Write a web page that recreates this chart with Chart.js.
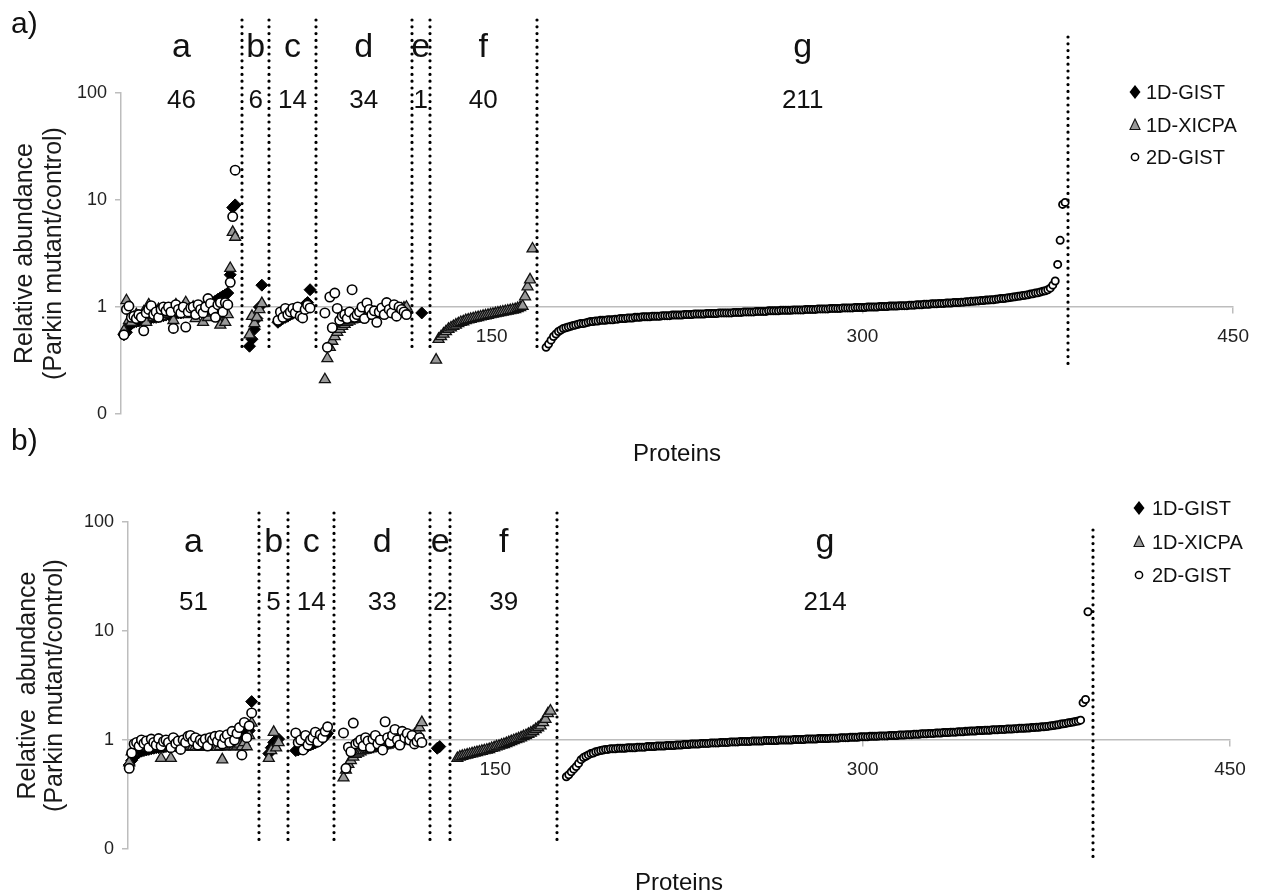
<!DOCTYPE html>
<html>
<head>
<meta charset="utf-8">
<script src="https://cdn.jsdelivr.net/npm/chart.js@4.4.1/dist/chart.umd.min.js"></script>
<style>
  html, body { margin: 0; padding: 0; background: #fff; }
  body { width: 1261px; height: 895px; position: relative; overflow: hidden; }
  canvas { position: absolute; left: 0; }
  #panelA { top: 0; }
  #panelB { top: 425px; }
</style>
</head>
<body>
<canvas id="panelA" width="1261" height="470"></canvas>
<canvas id="panelB" width="1261" height="470"></canvas>
<script>
'use strict';

const FONT = "'Liberation Sans', Arial, sans-serif";
Chart.defaults.font.family = FONT;
Chart.defaults.color = '#1a1a1a';

const seriesNames = ['1D-GIST', '1D-XICPA', '2D-GIST'];
const groupNames = ['a', 'b', 'c', 'd', 'e', 'f', 'g'];
const yTickValues = [0.1, 1, 10, 100];
const yTickLabels = ['0', '1', '10', '100'];
const xTickValues = [150, 300, 450];

// ---------- panel a) ----------
const aCounts = [46, 6, 14, 34, 1, 40, 211];
const aStarts = [1.2, 52, 63.5, 82.5, 121.7, 127.5, 172];   // x of first protein in each group
const aBounds = [49, 60, 78.7, 117.7, 124.9, 168.3, 383.3];  // dotted separators (x)

const aGist1D = {
  a: [0.55, 0.58, 0.66, 0.7, 0.72, 0.73, 0.74, 0.75, 0.76, 0.77,
      0.78, 0.79, 0.8, 0.8, 0.81, 0.82, 0.83, 0.84, 0.85, 0.86,
      0.86, 0.87, 0.88, 0.88, 0.89, 0.9, 0.9, 0.91, 0.92, 0.93,
      0.95, 0.97, 0.99, 1.01, 1.04, 1.07, 1.1, 1.14, 1.18, 1.22,
      1.26, 1.3, 1.35, 2.0, 8.5, 9.0],
  b: [0.43, 0.5, 0.62, 0.78, 1.0, 1.6],
  c: [0.72, 0.75, 0.78, 0.8, 0.82, 0.85, 0.87, 0.9, 0.92, 0.95, 0.98, 1.05, 1.1, 1.45],
  e: [0.88]
};
const aXicpa = {
  a: [0.6, 1.15, 0.75, 0.72, 0.8, 0.85, 0.8, 0.78, 0.9, 0.72,
      1.05, 0.85, 0.8, 0.9, 0.95, 0.82, 0.85, 0.9, 0.88, 0.95,
      0.75, 1.05, 0.9, 0.95, 1.0, 1.1, 0.85, 0.9, 1.0, 0.78,
      0.95, 1.0, 0.72, 0.9, 0.8, 0.95, 0.88, 0.9, 0.8, 0.68,
      1.0, 0.72, 0.85, 2.3, 5.0, 4.5],
  b: [0.55, 0.82, 0.7, 0.8, 0.95, 1.08],
  d: [0.21, 0.33, 0.42, 0.48, 0.53, 0.58, 0.62, 0.66, 0.69, 0.72,
      0.74, 0.76, 0.77, 0.79, 0.8, 0.81, 0.82, 0.83, 0.84, 0.85,
      0.86, 0.86, 0.87, 0.88, 0.89, 0.9, 0.91, 0.92, 0.93, 0.94,
      0.95, 0.96, 0.98, 1.0],
  f: [0.32, 0.5, 0.53, 0.56, 0.59, 0.62, 0.64, 0.66, 0.68, 0.7,
      0.72, 0.73, 0.75, 0.76, 0.77, 0.78, 0.79, 0.8, 0.81, 0.82,
      0.83, 0.84, 0.85, 0.86, 0.87, 0.88, 0.89, 0.9, 0.91, 0.92,
      0.93, 0.94, 0.95, 0.97, 0.99, 1.02, 1.25, 1.55, 1.8, 3.5]
};
const aGist2D = {
  a: [0.55, 0.95, 1.02, 0.8, 0.82, 0.78, 0.85, 0.8, 0.6, 0.88,
      0.95, 1.03, 0.85, 0.9, 0.8, 0.95, 1.0, 0.92, 1.0, 0.9,
      0.63, 1.05, 0.95, 0.88, 1.0, 0.65, 0.9, 0.98, 1.0, 0.85,
      1.05, 0.95, 0.88, 1.0, 1.2, 1.08, 0.92, 0.8, 1.05, 1.1,
      0.9, 1.1, 1.05, 1.7, 7.0, 19],
  c: [0.75, 0.9, 0.8, 0.97, 0.85, 0.9, 0.97, 0.88, 1.0, 0.82, 0.79, 0.95, 1.04, 0.98],
  d: [0.88, 0.42, 1.24, 0.64, 1.35, 0.97, 0.75, 0.82, 0.85, 0.78,
      0.9, 1.45, 0.8, 0.85, 0.9, 1.0, 0.78, 1.09, 0.95, 0.85,
      0.92, 0.72, 0.9, 0.98, 0.85, 1.1, 0.95, 0.88, 1.05, 0.82,
      1.0, 0.95, 0.9, 0.85],
  g: [0.42, 0.45, 0.49, 0.53, 0.56, 0.59, 0.61, 0.63, 0.64, 0.65,
      0.66, 0.67, 0.68, 0.69, 0.70, 0.70, 0.71, 0.72, 0.73, 0.73,
      0.74, 0.74, 0.75, 0.75, 0.75, 0.76, 0.76, 0.76, 0.77, 0.77,
      0.78, 0.78, 0.78, 0.79, 0.79, 0.79, 0.80, 0.80, 0.80, 0.81,
      0.81, 0.81, 0.81, 0.82, 0.82, 0.82, 0.82, 0.83, 0.83, 0.83,
      0.83, 0.84, 0.84, 0.84, 0.84, 0.84, 0.85, 0.85, 0.85, 0.85,
      0.86, 0.86, 0.86, 0.86, 0.86, 0.87, 0.87, 0.87, 0.87, 0.87,
      0.88, 0.88, 0.88, 0.88, 0.88, 0.88, 0.89, 0.89, 0.89, 0.89,
      0.90, 0.90, 0.90, 0.90, 0.90, 0.91, 0.91, 0.91, 0.91, 0.91,
      0.92, 0.92, 0.92, 0.92, 0.92, 0.93, 0.93, 0.93, 0.93, 0.93,
      0.94, 0.94, 0.94, 0.94, 0.94, 0.95, 0.95, 0.95, 0.95, 0.95,
      0.96, 0.96, 0.96, 0.96, 0.96, 0.97, 0.97, 0.97, 0.97, 0.97,
      0.98, 0.98, 0.98, 0.98, 0.98, 0.99, 0.99, 0.99, 0.99, 0.99,
      1.00, 1.00, 1.00, 1.00, 1.00, 1.01, 1.01, 1.01, 1.01, 1.02,
      1.02, 1.02, 1.02, 1.03, 1.03, 1.03, 1.03, 1.04, 1.04, 1.04,
      1.05, 1.05, 1.05, 1.06, 1.06, 1.06, 1.07, 1.07, 1.07, 1.08,
      1.08, 1.08, 1.09, 1.09, 1.09, 1.10, 1.10, 1.10, 1.11, 1.11,
      1.12, 1.12, 1.13, 1.13, 1.14, 1.14, 1.15, 1.15, 1.16, 1.16,
      1.17, 1.17, 1.18, 1.19, 1.20, 1.20, 1.21, 1.22, 1.23, 1.24,
      1.25, 1.26, 1.27, 1.28, 1.29, 1.30, 1.32, 1.33, 1.35, 1.36,
      1.38, 1.40, 1.42, 1.45, 1.50, 1.60, 1.75, 2.50, 4.20, 9.10, 9.50]
};

// ---------- panel b) ----------
const bCounts = [51, 5, 14, 33, 2, 39, 214];
const bStarts = [0.5, 57.5, 68.5, 88, 126.3, 134.5, 179];
const bBounds = [53.5, 65.4, 84.2, 123.4, 131.6, 175.3, 394];

const bGist1D = {
  a: [0.59, 0.65, 0.7, 0.74, 0.77, 0.79, 0.8, 0.81, 0.82, 0.83,
      0.84, 0.85, 0.85, 0.86, 0.86, 0.87, 0.87, 0.88, 0.88, 0.88,
      0.89, 0.89, 0.89, 0.9, 0.9, 0.9, 0.91, 0.91, 0.92, 0.92,
      0.93, 0.93, 0.94, 0.94, 0.95, 0.96, 0.97, 0.98, 0.99, 1.0,
      1.01, 1.02, 1.04, 1.06, 1.08, 1.1, 1.12, 1.15, 1.18, 1.22, 2.25],
  b: [0.75, 0.85, 0.95, 1.0, 1.02],
  c: [0.8, 0.81, 0.83, 0.85, 0.86, 0.88, 0.9, 0.92, 0.94, 0.97, 1.0, 1.03, 1.08, 1.15],
  e: [0.84, 0.87]
};
const bXicpa = {
  a: [0.62, 0.78, 0.85, 0.87, 0.87, 0.88, 0.87, 0.86, 0.88, 0.87,
      0.87, 0.88, 0.87, 0.68, 0.87, 0.87, 0.88, 0.68, 0.87, 0.86,
      0.88, 0.87, 0.87, 0.9, 0.87, 0.88, 0.87, 0.87, 0.86, 0.87,
      0.88, 0.87, 0.87, 0.87, 0.88, 0.87, 0.86, 0.87, 0.66, 0.87,
      0.88, 0.87, 0.9, 0.87, 0.88, 0.92, 0.87, 0.95, 0.87, 1.1, 1.43],
  b: [0.68, 0.8, 1.18, 0.85, 0.95],
  d: [0.45, 0.53, 0.6, 0.65, 0.7, 0.74, 0.76, 0.78, 0.8, 0.81,
      0.82, 0.83, 0.84, 0.85, 0.86, 0.87, 0.88, 0.89, 0.9, 0.92,
      0.93, 0.94, 0.95, 0.97, 0.99, 1.0, 1.02, 1.05, 1.08, 1.12,
      1.2, 1.3, 1.45],
  f: [0.68, 0.7, 0.71, 0.72, 0.73, 0.74, 0.75, 0.76, 0.77, 0.78,
      0.79, 0.8, 0.81, 0.82, 0.84, 0.85, 0.87, 0.88, 0.9, 0.91,
      0.93, 0.95, 0.97, 0.99, 1.01, 1.03, 1.05, 1.08, 1.1, 1.13,
      1.16, 1.2, 1.25, 1.3, 1.35, 1.45, 1.55, 1.75, 1.85]
};
const bGist2D = {
  a: [0.55, 0.76, 0.92, 0.95, 0.88, 1.0, 0.93, 0.98, 0.85, 1.02,
      0.95, 0.9, 1.03, 0.88, 0.97, 1.0, 0.95, 0.85, 1.05, 0.93,
      0.98, 0.82, 1.0, 0.95, 1.08, 1.1, 0.98, 1.05, 0.9, 1.0,
      0.95, 1.02, 0.88, 1.05, 1.0, 1.08, 0.97, 1.1, 0.92, 1.05,
      1.12, 0.95, 1.2, 1.0, 1.15, 1.3, 0.73, 1.45, 1.05, 1.35, 1.77],
  c: [1.16, 0.95, 1.0, 0.81, 1.1, 0.9, 1.0, 1.05, 1.18, 0.96, 1.12, 1.05, 1.2, 1.32],
  d: [1.16, 0.55, 0.86, 0.78, 1.43, 0.92, 0.95, 1.0, 0.88, 1.05,
      0.98, 0.85, 1.02, 1.1, 0.92, 1.0, 0.81, 1.47, 1.05, 0.95,
      1.1, 1.25, 1.0, 0.9, 1.2, 1.05, 1.15, 1.0, 1.1, 0.92,
      0.97, 1.05, 0.95],
  g: [0.46, 0.48, 0.51, 0.54, 0.57, 0.61, 0.66, 0.69, 0.71, 0.73,
      0.75, 0.76, 0.78, 0.79, 0.80, 0.81, 0.82, 0.82, 0.83, 0.83,
      0.83, 0.84, 0.84, 0.84, 0.84, 0.85, 0.85, 0.85, 0.85, 0.86,
      0.86, 0.86, 0.86, 0.87, 0.87, 0.87, 0.87, 0.88, 0.88, 0.88,
      0.88, 0.89, 0.89, 0.89, 0.89, 0.90, 0.90, 0.90, 0.91, 0.91,
      0.91, 0.92, 0.92, 0.92, 0.92, 0.93, 0.93, 0.93, 0.93, 0.94,
      0.94, 0.94, 0.94, 0.95, 0.95, 0.95, 0.95, 0.96, 0.96, 0.96,
      0.96, 0.97, 0.97, 0.97, 0.97, 0.97, 0.98, 0.98, 0.98, 0.98,
      0.98, 0.99, 0.99, 0.99, 0.99, 0.99, 0.99, 1.00, 1.00, 1.00,
      1.00, 1.00, 1.00, 1.01, 1.01, 1.01, 1.01, 1.01, 1.02, 1.02,
      1.02, 1.02, 1.02, 1.03, 1.03, 1.03, 1.03, 1.03, 1.04, 1.04,
      1.04, 1.04, 1.05, 1.05, 1.05, 1.05, 1.06, 1.06, 1.06, 1.06,
      1.07, 1.07, 1.07, 1.07, 1.08, 1.08, 1.08, 1.08, 1.09, 1.09,
      1.09, 1.09, 1.10, 1.10, 1.10, 1.10, 1.11, 1.11, 1.11, 1.12,
      1.12, 1.12, 1.13, 1.13, 1.13, 1.14, 1.14, 1.14, 1.15, 1.15,
      1.15, 1.16, 1.16, 1.16, 1.17, 1.17, 1.17, 1.18, 1.18, 1.18,
      1.19, 1.19, 1.19, 1.20, 1.20, 1.21, 1.21, 1.21, 1.22, 1.22,
      1.22, 1.23, 1.23, 1.23, 1.24, 1.24, 1.24, 1.25, 1.25, 1.25,
      1.26, 1.26, 1.26, 1.27, 1.27, 1.28, 1.28, 1.28, 1.29, 1.29,
      1.30, 1.30, 1.31, 1.31, 1.32, 1.32, 1.33, 1.34, 1.35, 1.36,
      1.37, 1.38, 1.40, 1.41, 1.42, 1.44, 1.45, 1.46, 1.48, 1.49,
      1.52, 2.20, 2.35, 15.0]
};

// turn {group: values} into scatter points, protein i of a group sits at start + i
function toPoints(groups, starts, keys) {
  const pts = [];
  keys.forEach(g => {
    const x0 = starts[groupNames.indexOf(g)];
    groups[g].forEach((v, i) => pts.push({ x: x0 + i, y: v }));
  });
  return pts;
}

const diamond = { pointStyle: 'rectRot', pointRadius: 6, pointBackgroundColor: '#000', pointBorderColor: '#000', pointBorderWidth: 1 };
const triangle = { pointStyle: 'triangle', pointRadius: 6.3, pointBackgroundColor: '#999', pointBorderColor: '#111', pointBorderWidth: 1.3 };
const circle = { pointStyle: 'circle', pointRadius: 4.7, pointBackgroundColor: '#fff', pointBorderColor: '#000', pointBorderWidth: 1.6 };
const smallCircle = Object.assign({}, circle, { pointRadius: 3.6, pointBorderWidth: 1.8 });

function legendMarker(ctx, kind, x, y) {
  ctx.beginPath();
  if (kind === 0) {
    ctx.moveTo(x, y - 7); ctx.lineTo(x + 5.5, y); ctx.lineTo(x, y + 7); ctx.lineTo(x - 5.5, y);
    ctx.closePath();
    ctx.fillStyle = '#000'; ctx.fill();
  } else if (kind === 1) {
    ctx.moveTo(x, y - 6); ctx.lineTo(x + 5, y + 4.5); ctx.lineTo(x - 5, y + 4.5);
    ctx.closePath();
    ctx.fillStyle = '#999'; ctx.fill();
    ctx.lineWidth = 1.1; ctx.strokeStyle = '#111'; ctx.stroke();
  } else {
    ctx.arc(x, y, 3.6, 0, Math.PI * 2);
    ctx.fillStyle = '#fff'; ctx.fill();
    ctx.lineWidth = 1.5; ctx.strokeStyle = '#000'; ctx.stroke();
  }
}

// separators, group letters/counts, legend, panel label and x title
const groupMarks = {
  id: 'groupMarks',
  afterDatasetsDraw(chart, args, o) {
    const { ctx, chartArea } = chart;
    const x = chart.scales.x;
    ctx.save();

    ctx.strokeStyle = '#000';
    ctx.lineWidth = 3.2;
    ctx.lineCap = 'round';
    ctx.setLineDash([0, 6.8]);
    o.bounds.forEach((b, i) => {
      const px = Math.round(x.getPixelForValue(b));
      const last = i === o.bounds.length - 1;
      ctx.beginPath();
      ctx.moveTo(px, last ? o.lastTop : o.lineTop);
      ctx.lineTo(px, last ? o.lastBottom : o.lineBottom);
      ctx.stroke();
    });
    ctx.setLineDash([]);

    ctx.fillStyle = '#111';
    ctx.textAlign = 'center';
    ctx.textBaseline = 'alphabetic';
    o.bounds.forEach((b, i) => {
      const from = i === 0 ? x.min : o.bounds[i - 1];
      const cx = x.getPixelForValue((from + b) / 2);
      ctx.font = '34px ' + FONT;
      ctx.fillText(groupNames[i], cx, o.letterY);
      ctx.font = '26px ' + FONT;
      ctx.fillText(String(o.counts[i]), cx, o.countY);
    });

    ctx.font = '24px ' + FONT;
    ctx.fillText('Proteins', (chartArea.left + chartArea.right) / 2, o.xTitleY);

    ctx.textAlign = 'left';
    ctx.font = '30px ' + FONT;
    ctx.fillText(o.label, 11, o.labelY);

    seriesNames.forEach((name, k) => {
      legendMarker(ctx, k, o.legendX, o.legendY[k]);
      ctx.fillStyle = '#111';
      ctx.font = '20px ' + FONT;
      ctx.fillText(name, o.legendTextX, o.legendY[k] + 7);
    });
    ctx.restore();
  }
};

function makePanel(id, p) {
  const allKeys = Object.keys(p.gist2d);
  return new Chart(document.getElementById(id), {
    type: 'scatter',
    data: {
      datasets: [
        Object.assign({ label: seriesNames[0], data: toPoints(p.gist1d, p.starts, Object.keys(p.gist1d)), order: 2 }, diamond),
        Object.assign({ label: seriesNames[1], data: toPoints(p.xicpa, p.starts, Object.keys(p.xicpa)), order: 1 }, triangle),
        Object.assign({ label: seriesNames[2], data: toPoints(p.gist2d, p.starts, allKeys.filter(k => k !== 'g')), order: 0 }, circle),
        Object.assign({ label: seriesNames[2], data: toPoints(p.gist2d, p.starts, ['g']), order: 0 }, smallCircle)
      ].map(d => Object.assign(d, { clip: false }))
    },
    options: {
      responsive: false,
      animation: false,
      devicePixelRatio: 1,
      layout: { padding: p.padding },
      plugins: {
        legend: { display: false },
        tooltip: { enabled: false },
        groupMarks: p.marks
      },
      scales: {
        x: {
          type: 'linear',
          min: 0,
          max: 450,
          position: { y: 1 },
          afterBuildTicks: s => { s.ticks = xTickValues.map(v => ({ value: v })); },
          ticks: { font: { size: 19 }, color: '#222', padding: 12, maxRotation: 0 },
          grid: { drawOnChartArea: false, tickLength: 6, color: '#bdbdbd', lineWidth: 1.5 },
          border: { color: '#bdbdbd', width: 1.5 }
        },
        y: {
          type: 'logarithmic',
          min: 0.1,
          max: 100,
          afterBuildTicks: s => { s.ticks = yTickValues.map(v => ({ value: v })); },
          afterFit: s => { s.width = p.axisLeft; },
          ticks: {
            callback: v => yTickLabels[yTickValues.indexOf(v)],
            font: { size: 18 }, color: '#222', padding: 8
          },
          grid: { drawOnChartArea: false, tickLength: 6, color: '#bdbdbd', lineWidth: 1.5 },
          border: { color: '#bdbdbd', width: 1.5 },
          title: {
            display: true,
            text: p.yTitle,
            color: '#1a1a1a',
            font: { size: 25, lineHeight: p.titleLine },
            padding: { top: p.titlePad, bottom: 0 }
          }
        }
      }
    },
    plugins: [groupMarks]
  });
}

makePanel('panelA', {
  counts: aCounts, starts: aStarts, gist1d: aGist1D, xicpa: aXicpa, gist2d: aGist2D,
  yTitle: ['Relative abundance', '(Parkin mutant/control)'],
  axisLeft: 121, titlePad: 11, titleLine: 1.15,
  padding: { top: 93, right: 20, bottom: 56, left: 0 },
  marks: {
    bounds: aBounds, counts: aCounts, label: 'a)', labelY: 33,
    letterY: 57, countY: 108, lineTop: 20, lineBottom: 350, lastTop: 37, lastBottom: 368,
    legendX: 1135, legendTextX: 1146, legendY: [92, 125, 157], xTitleY: 461
  }
});

makePanel('panelB', {
  counts: bCounts, starts: bStarts, gist1d: bGist1D, xicpa: bXicpa, gist2d: bGist2D,
  yTitle: ['Relative  abundance', '(Parkin mutant/control)'],
  axisLeft: 128, titlePad: 14, titleLine: 1.1,
  padding: { top: 97, right: 31, bottom: 46, left: 0 },
  marks: {
    bounds: bBounds, counts: bCounts, label: 'b)', labelY: 25,
    letterY: 127, countY: 185, lineTop: 88, lineBottom: 420, lastTop: 105, lastBottom: 437,
    legendX: 1139, legendTextX: 1152, legendY: [83, 117, 150], xTitleY: 465
  }
});
</script>
</body>
</html>
